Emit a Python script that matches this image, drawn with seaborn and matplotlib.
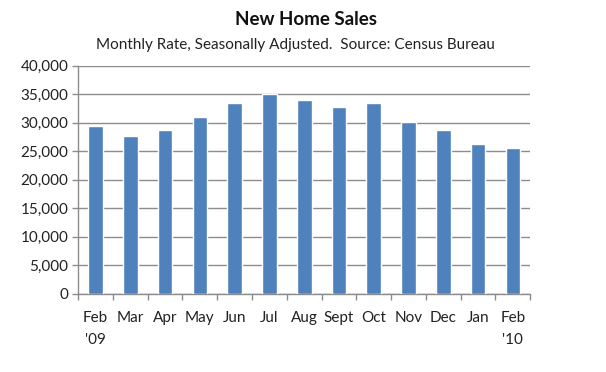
import numpy as np
import pandas as pd
import matplotlib
matplotlib.use("Agg")
import matplotlib.pyplot as plt
import seaborn as sns
from matplotlib.ticker import FuncFormatter, FixedLocator

months = ["Feb\n'09", "Mar", "Apr", "May", "Jun", "Jul", "Aug",
          "Sept", "Oct", "Nov", "Dec", "Jan", "Feb\n'10"]
sales = [29400, 27700, 28800, 31000, 33400, 35000, 34000,
         32700, 33400, 30100, 28800, 26300, 25600]

df = pd.DataFrame({"month": months, "sales": sales})

sns.set_style("white")
plt.rcParams["font.family"] = ["Lato", "DejaVu Sans"]

fig = plt.figure(figsize=(6.06, 3.72), dpi=100)
ax = fig.add_axes([0.129, 0.210, 0.746, 0.613])

sns.barplot(data=df, x="month", y="sales", color="#4F81BD", saturation=1,
            width=0.42, ax=ax, zorder=3)

ax.set_ylim(0, 40000)
ax.set_yticks(np.arange(0, 40001, 5000))
ax.yaxis.set_major_formatter(FuncFormatter(lambda v, p: f"{int(v):,}"))
ax.grid(axis="y", color="#8c8c8c", linewidth=1, zorder=0)
ax.set_axisbelow(True)

ax.set_xlim(-0.5, 12.5)
ax.xaxis.set_minor_locator(FixedLocator(np.arange(-0.5, 13, 1)))
ax.tick_params(axis="x", which="major", length=0, pad=12, labelsize=11,
               colors="#222222")
ax.tick_params(axis="x", which="minor", length=4, width=1, color="#8c8c8c",
               direction="out", bottom=True)
ax.tick_params(axis="y", length=4, width=1, color="#8c8c8c", left=True,
               labelsize=11, labelcolor="#222222", pad=3)
for lab in ax.get_xticklabels():
    lab.set_linespacing(1.75)
    lab.set_verticalalignment("top")

for s in ["top", "right"]:
    ax.spines[s].set_visible(False)
for s in ["left", "bottom"]:
    ax.spines[s].set_color("#8c8c8c")
    ax.spines[s].set_linewidth(1)

ax.set_xlabel("")
ax.set_ylabel("")

fig.text(0.505, 0.948, "New Home Sales", ha="center", va="center",
         fontsize=13.5, fontweight="bold", color="#111111")
fig.text(0.488, 0.878,
         "Monthly Rate, Seasonally Adjusted.  Source: Census Bureau",
         ha="center", va="center", fontsize=11, color="#222222")

fig.savefig("out.png", dpi=100)
